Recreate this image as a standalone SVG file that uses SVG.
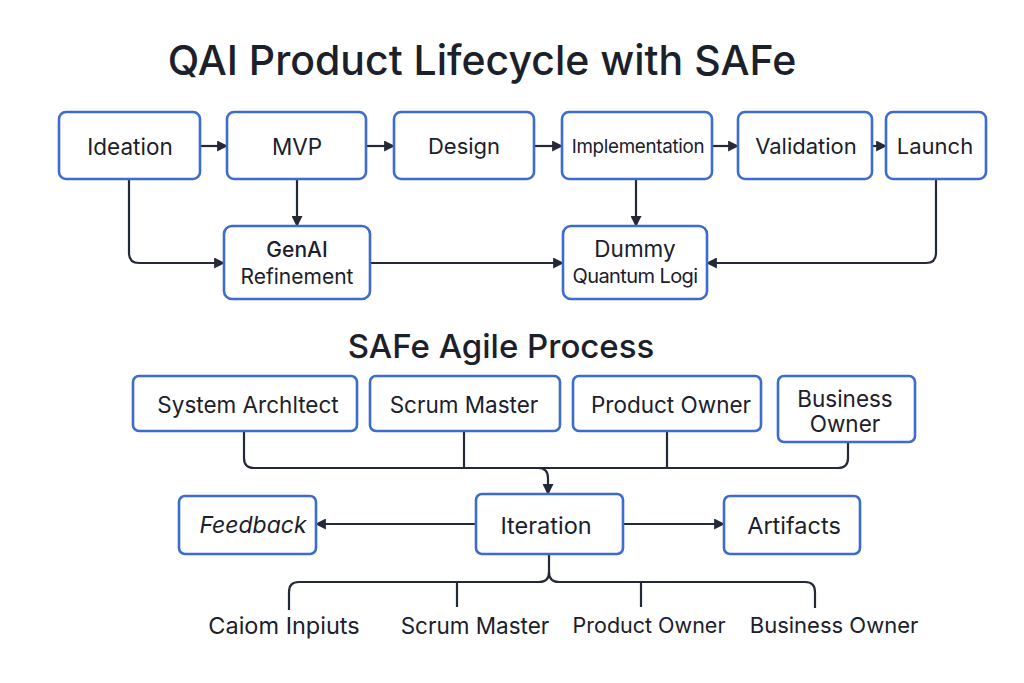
<svg xmlns="http://www.w3.org/2000/svg" width="1024" height="683" viewBox="0 0 1024 683">
<defs>
<marker id="ah" viewBox="0 0 10 10" refX="9" refY="5" markerWidth="5" markerHeight="5" markerUnits="strokeWidth" orient="auto">
<path d="M0,0 L10,5 L0,10 Z" fill="#232936"/>
</marker>
<style>
.box{fill:#ffffff;stroke:#3d6ccf;stroke-width:2.6}
.t{font-family:Inter,"Liberation Sans",sans-serif;fill:#1b202b;text-anchor:middle;dominant-baseline:central}
.c{fill:none;stroke:#232936;stroke-width:2.2;stroke-linejoin:round}
.a{marker-end:url(#ah)}
</style>
</defs>
<rect width="1024" height="683" fill="#ffffff"/>
<text class="t" x="482" y="60" font-size="41" font-weight="500">QAI Product Lifecycle with SAFe</text>
<text class="t" x="501" y="346" font-size="33" font-weight="500">SAFe Agile Process</text>

<g id="connectors">
<path class="c a" d="M200,146 H227"/>
<path class="c a" d="M366,146 H394"/>
<path class="c a" d="M534,146 H562"/>
<path class="c a" d="M712,146 H738"/>
<path class="c a" d="M872,146 H886"/>
<path class="c a" d="M129,179 V253 Q129,263 139,263 H224"/>
<path class="c a" d="M297,179 V226"/>
<path class="c a" d="M370,263 H563"/>
<path class="c a" d="M636,179 V226"/>
<path class="c a" d="M936,179 V253 Q936,263 926,263 H707"/>
<path class="c" d="M244,431 V458 Q244,468 254,468 H838 Q848,468 848,458 V442"/>
<path class="c" d="M464,431 V468"/>
<path class="c" d="M667,431 V468"/>
<path class="c a" d="M538,468 Q548,468 548,478 V494"/>
<path class="c a" d="M476,524 H316"/>
<path class="c a" d="M623,524 H724"/>
<path class="c" d="M549,554 V572 Q549,582 539,582 H299 Q289,582 289,592 V610"/>
<path class="c" d="M549,572 Q549,582 559,582 H805 Q815,582 815,592 V608"/>
<path class="c" d="M457,582 V607"/>
<path class="c" d="M641,582 V607"/>
</g>

<g id="ideation"><rect class="box" x="59" y="112" width="141" height="67" rx="7"/><text class="t" x="130" y="146" font-size="22.5">Ideation</text></g>
<g id="mvp"><rect class="box" x="227" y="112" width="139" height="67" rx="7"/><text class="t" x="297" y="146" font-size="22.5">MVP</text></g>
<g id="design"><rect class="box" x="394" y="112" width="140" height="67" rx="7"/><text class="t" x="464" y="146" font-size="22">Design</text></g>
<g id="implementation"><rect class="box" x="562" y="112" width="150" height="67" rx="7"/><text class="t" x="638" y="146" font-size="18.8" letter-spacing="-0.3">Implementation</text></g>
<g id="validation"><rect class="box" x="738" y="112" width="134" height="67" rx="7"/><text class="t" x="806" y="146" font-size="22">Validation</text></g>
<g id="launch"><rect class="box" x="886" y="112" width="100" height="67" rx="7"/><text class="t" x="935" y="146" font-size="22">Launch</text></g>
<g id="genai"><rect class="box" x="224" y="226" width="146" height="73" rx="8"/><text class="t" x="297" y="249" font-size="21" font-weight="500">GenAI</text><text class="t" x="297" y="276" font-size="21">Refinement</text></g>
<g id="dummy"><rect class="box" x="563" y="226" width="144" height="73" rx="8"/><text class="t" x="635" y="248" font-size="22.5">Dummy</text><text class="t" x="635" y="276" font-size="20" letter-spacing="-0.6">Quantum Logi</text></g>

<g id="system-architect"><rect class="box" x="133" y="376" width="224" height="55" rx="6"/><text class="t" x="248" y="404" font-size="22.5">System Archltect</text></g>
<g id="scrum-master"><rect class="box" x="370" y="376" width="190" height="55" rx="6"/><text class="t" x="464" y="404" font-size="22.5">Scrum Master</text></g>
<g id="product-owner"><rect class="box" x="573" y="376" width="188" height="55" rx="6"/><text class="t" x="671" y="404" font-size="22.5">Product Owner</text></g>
<g id="business-owner"><rect class="box" x="778" y="376" width="137" height="66" rx="6"/><text class="t" x="845" y="398" font-size="22.5">Business</text><text class="t" x="845" y="423" font-size="22.5">Owner</text></g>

<g id="feedback"><rect class="box" x="179" y="496" width="137" height="58" rx="6"/><text class="t" x="253" y="525" font-size="23" font-style="italic">Feedback</text></g>
<g id="iteration"><rect class="box" x="476" y="494" width="147" height="60" rx="6"/><text class="t" x="546" y="525" font-size="23.5">Iteration</text></g>
<g id="artifacts"><rect class="box" x="724" y="496" width="136" height="58" rx="6"/><text class="t" x="794" y="525" font-size="23.5">Artifacts</text></g>

<g id="bottom-labels">
<text class="t" x="284" y="625" font-size="23.5">Caiom Inpiuts</text>
<text class="t" x="475" y="625" font-size="22.5">Scrum Master</text>
<text class="t" x="649" y="625" font-size="21.5">Product Owner</text>
<text class="t" x="834" y="625" font-size="22">Business Owner</text>
</g>
</svg>
